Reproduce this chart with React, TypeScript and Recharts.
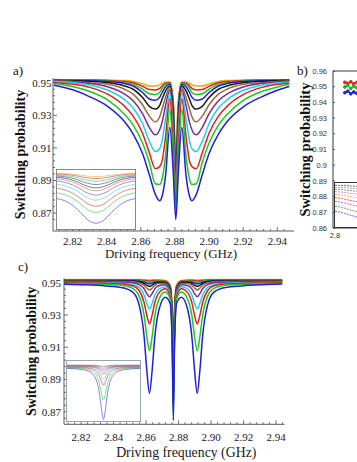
import React from 'react';
import { LineChart, Line, XAxis, YAxis, ReferenceArea } from 'recharts';

const SERIF = '"Liberation Serif", "Times New Roman", serif';
const SANS = '"Liberation Sans", Arial, sans-serif';
const AXIS = '#4a4a4a';

// curve colours, deepest dip first
const COLORS = ['#2020d8', '#1ec81e', '#e01e1e', '#1ed2e6', '#7d2d91', '#9a6b3c', '#1a1a1a', '#2020d8', '#1ec81e', '#e01e1e', '#e8a81e'];
const INSET_C_COLORS = ['#2020d8', '#1ec81e', '#e01e1e', '#1ed2e6', '#b0307a', '#7d2d91', '#9a6b3c', '#555555'];
const INSET_B_COLORS = ['#444444', '#999999', '#9a5ab0', '#e07aa0', '#e8a040', '#e03030', '#c040c0', '#30a030', '#4040d0'];

// shared ticks
const X_MAJOR = [2.82, 2.84, 2.86, 2.88, 2.9, 2.92, 2.94];
const X_MINOR = [2.812, 2.816, 2.824, 2.828, 2.832, 2.836, 2.844, 2.848, 2.852, 2.856, 2.864, 2.868, 2.872, 2.876,
  2.884, 2.888, 2.892, 2.896, 2.904, 2.908, 2.912, 2.916, 2.924, 2.928, 2.932, 2.936, 2.944];
const Y_MAJOR = [0.87, 0.89, 0.91, 0.93, 0.95];
const Y_MINOR = [0.866, 0.874, 0.878, 0.882, 0.886, 0.894, 0.898, 0.902, 0.906, 0.914, 0.918, 0.922, 0.926,
  0.934, 0.938, 0.942, 0.946];

// panel a
const FREQ_A = [2.809, 2.8205, 2.8305, 2.8405, 2.8505, 2.8555, 2.861, 2.865, 2.8685, 2.871, 2.8725, 2.8745, 2.877, 2.879, 2.8805,
  2.882, 2.884, 2.8865, 2.8885, 2.89, 2.8925, 2.896, 2.9, 2.9055, 2.9105, 2.9205, 2.9305, 2.9405, 2.947];
const A_BLUE = [0.9485, 0.9455, 0.9412, 0.9355, 0.926, 0.9185, 0.9065, 0.8935, 0.8815, 0.8776, 0.8805, 0.893, 0.9226, 0.895, 0.866,
  0.895, 0.9226, 0.893, 0.8805, 0.8776, 0.8815, 0.8935, 0.9065, 0.9185, 0.926, 0.9355, 0.9412, 0.9455, 0.9477];
const A_GREEN = [0.9495, 0.9475, 0.9445, 0.9395, 0.9305, 0.924, 0.913, 0.901, 0.888, 0.8875, 0.891, 0.905, 0.9335, 0.903, 0.872,
  0.903, 0.9335, 0.905, 0.891, 0.8875, 0.888, 0.901, 0.913, 0.924, 0.9305, 0.9395, 0.9445, 0.9475, 0.949];
const A_RED = [0.95, 0.949, 0.947, 0.943, 0.9355, 0.9295, 0.919, 0.907, 0.8972, 0.8985, 0.902, 0.917, 0.94, 0.91, 0.876,
  0.91, 0.94, 0.917, 0.902, 0.8985, 0.8972, 0.907, 0.919, 0.9295, 0.9355, 0.943, 0.947, 0.949, 0.9497];
const A_CYAN = [0.9507, 0.95, 0.9485, 0.9455, 0.9395, 0.9345, 0.925, 0.914, 0.9078, 0.9095, 0.9145, 0.928, 0.9435, 0.915, 0.879,
  0.915, 0.9435, 0.928, 0.9145, 0.9095, 0.9078, 0.914, 0.925, 0.9345, 0.9395, 0.9455, 0.9485, 0.95, 0.9505];
const A_PURPLE = [0.951, 0.9505, 0.9495, 0.9475, 0.943, 0.939, 0.931, 0.9225, 0.918, 0.921, 0.926, 0.936, 0.9455, 0.92, 0.882,
  0.92, 0.9455, 0.936, 0.926, 0.921, 0.918, 0.9225, 0.931, 0.939, 0.943, 0.9475, 0.9495, 0.9505, 0.9508];
const A_BROWN = [0.9512, 0.9508, 0.95, 0.949, 0.946, 0.943, 0.9365, 0.9295, 0.926, 0.929, 0.934, 0.941, 0.947, 0.924, 0.886,
  0.924, 0.947, 0.941, 0.934, 0.929, 0.926, 0.9295, 0.9365, 0.943, 0.946, 0.949, 0.95, 0.9508, 0.951];
const A_BLACK = [0.9514, 0.9512, 0.9508, 0.95, 0.948, 0.946, 0.941, 0.9355, 0.9338, 0.936, 0.94, 0.945, 0.948, 0.928, 0.89,
  0.928, 0.948, 0.945, 0.94, 0.936, 0.9338, 0.9355, 0.941, 0.946, 0.948, 0.95, 0.9508, 0.9512, 0.9513];
const A_BLUE2 = [0.9515, 0.9514, 0.9512, 0.9507, 0.9495, 0.948, 0.944, 0.94, 0.9392, 0.941, 0.944, 0.9475, 0.949, 0.931, 0.894,
  0.931, 0.949, 0.9475, 0.944, 0.941, 0.9392, 0.94, 0.944, 0.948, 0.9495, 0.9507, 0.9512, 0.9514, 0.9515];
const A_GREEN2 = [0.9516, 0.9515, 0.9514, 0.951, 0.95, 0.949, 0.946, 0.9432, 0.9427, 0.944, 0.9465, 0.949, 0.9495, 0.934, 0.898,
  0.934, 0.9495, 0.949, 0.9465, 0.944, 0.9427, 0.9432, 0.946, 0.949, 0.95, 0.951, 0.9514, 0.9515, 0.9516];
const A_RED2 = [0.9517, 0.9517, 0.9516, 0.9513, 0.9507, 0.95, 0.9478, 0.9458, 0.9456, 0.9465, 0.948, 0.9497, 0.95, 0.937, 0.902,
  0.937, 0.95, 0.9497, 0.948, 0.9465, 0.9456, 0.9458, 0.9478, 0.95, 0.9507, 0.9513, 0.9516, 0.9517, 0.9517];
const A_ORANGE = [0.9518, 0.9518, 0.9518, 0.9516, 0.9513, 0.9508, 0.9493, 0.948, 0.948, 0.9487, 0.9495, 0.9505, 0.9505, 0.94, 0.906,
  0.94, 0.9505, 0.9505, 0.9495, 0.9487, 0.948, 0.948, 0.9493, 0.9508, 0.9513, 0.9516, 0.9518, 0.9518, 0.9518];

// inset of panel a
const FREQ_IA = [2.86, 2.865, 2.869, 2.872, 2.8744, 2.8764, 2.8782, 2.88, 2.8818, 2.8836, 2.8856, 2.888, 2.891, 2.895, 2.9];
const IA = [
  [0.9401, 0.9389, 0.9368, 0.9346, 0.9327, 0.9313, 0.9306, 0.9303, 0.9306, 0.9313, 0.9327, 0.9346, 0.9368, 0.9389, 0.9401],
  [0.9424, 0.9414, 0.9398, 0.938, 0.9365, 0.9354, 0.9348, 0.9346, 0.9348, 0.9354, 0.9365, 0.938, 0.9398, 0.9414, 0.9424],
  [0.9442, 0.9433, 0.9418, 0.9402, 0.9388, 0.9378, 0.9373, 0.9371, 0.9373, 0.9378, 0.9388, 0.9402, 0.9418, 0.9433, 0.9442],
  [0.9458, 0.945, 0.9437, 0.9423, 0.941, 0.9402, 0.9397, 0.9395, 0.9397, 0.9402, 0.941, 0.9423, 0.9437, 0.945, 0.9458],
  [0.9471, 0.9464, 0.9452, 0.944, 0.9428, 0.9421, 0.9417, 0.9415, 0.9417, 0.9421, 0.9428, 0.944, 0.9452, 0.9464, 0.9471],
  [0.948, 0.9474, 0.9464, 0.9453, 0.9444, 0.9437, 0.9433, 0.9432, 0.9433, 0.9437, 0.9444, 0.9453, 0.9464, 0.9474, 0.948],
  [0.9486, 0.9481, 0.9472, 0.9462, 0.9454, 0.9448, 0.9445, 0.9444, 0.9445, 0.9448, 0.9454, 0.9462, 0.9472, 0.9481, 0.9486],
  [0.9491, 0.9487, 0.948, 0.9472, 0.9465, 0.9461, 0.9458, 0.9457, 0.9458, 0.9461, 0.9465, 0.9472, 0.948, 0.9487, 0.9491],
  [0.9495, 0.9492, 0.9487, 0.9481, 0.9476, 0.9473, 0.9471, 0.947, 0.9471, 0.9473, 0.9476, 0.9481, 0.9487, 0.9492, 0.9495],
  [0.9499, 0.9497, 0.9493, 0.9489, 0.9485, 0.9483, 0.9481, 0.9481, 0.9481, 0.9483, 0.9485, 0.9489, 0.9493, 0.9497, 0.9499],
  [0.9502, 0.95, 0.9498, 0.9495, 0.9492, 0.949, 0.9489, 0.9489, 0.9489, 0.949, 0.9492, 0.9495, 0.9498, 0.95, 0.9502],
];

// panel c
const FREQ_C = [2.8088, 2.8218, 2.8348, 2.8448, 2.8518, 2.8558, 2.8588, 2.8604, 2.8621, 2.8638, 2.8653, 2.8678, 2.8718, 2.8748, 2.8761, 2.8768,
  2.8775, 2.8788, 2.8818, 2.8858, 2.8883, 2.8898, 2.8915, 2.8932, 2.8948, 2.8978, 2.9018, 2.9088, 2.9188, 2.9318, 2.9438];
const C_BLUE = [0.9491, 0.9487, 0.948, 0.947, 0.9441, 0.9359, 0.9167, 0.8965, 0.8814, 0.8963, 0.9153, 0.9326, 0.941, 0.9373, 0.9108, 0.8646,
  0.9108, 0.9373, 0.941, 0.9326, 0.9153, 0.8963, 0.8814, 0.8965, 0.9167, 0.9359, 0.9441, 0.947, 0.948, 0.9487, 0.9491];
const C_GREEN = [0.9496, 0.9494, 0.949, 0.9484, 0.9465, 0.9415, 0.9296, 0.9172, 0.9078, 0.917, 0.9288, 0.9393, 0.9442, 0.94, 0.914, 0.869,
  0.914, 0.94, 0.9442, 0.9393, 0.9288, 0.917, 0.9078, 0.9172, 0.9296, 0.9415, 0.9465, 0.9484, 0.949, 0.9494, 0.9496];
const C_RED = [0.95, 0.9498, 0.9496, 0.9492, 0.9481, 0.945, 0.9377, 0.9301, 0.9244, 0.93, 0.9372, 0.9435, 0.9463, 0.9418, 0.9168, 0.8735,
  0.9168, 0.9418, 0.9463, 0.9435, 0.9372, 0.93, 0.9244, 0.9301, 0.9377, 0.945, 0.9481, 0.9492, 0.9496, 0.9498, 0.95];
const C_CYAN = [0.9501, 0.9501, 0.9499, 0.9497, 0.9489, 0.947, 0.9423, 0.9374, 0.9337, 0.9373, 0.942, 0.9459, 0.9475, 0.943, 0.9192, 0.878,
  0.9192, 0.943, 0.9475, 0.9459, 0.942, 0.9373, 0.9337, 0.9374, 0.9423, 0.947, 0.9489, 0.9497, 0.9499, 0.9501, 0.9501];
const C_PURPLE = [0.9506, 0.9506, 0.9505, 0.9503, 0.9499, 0.9488, 0.9462, 0.9434, 0.9413, 0.9434, 0.946, 0.9481, 0.9487, 0.9444, 0.9217, 0.8828,
  0.9217, 0.9444, 0.9487, 0.9481, 0.946, 0.9434, 0.9413, 0.9434, 0.9462, 0.9488, 0.9499, 0.9503, 0.9505, 0.9506, 0.9506];
const C_BROWN = [0.9509, 0.9509, 0.9508, 0.9507, 0.9505, 0.9498, 0.9483, 0.9467, 0.9455, 0.9467, 0.9482, 0.9494, 0.9495, 0.9453, 0.924, 0.8875,
  0.924, 0.9453, 0.9495, 0.9494, 0.9482, 0.9467, 0.9455, 0.9467, 0.9483, 0.9498, 0.9505, 0.9507, 0.9508, 0.9509, 0.9509];
const C_BLACK = [0.9512, 0.9512, 0.9511, 0.951, 0.9509, 0.9505, 0.9495, 0.9485, 0.9477, 0.9485, 0.9494, 0.9501, 0.9499, 0.946, 0.9263, 0.8922,
  0.9263, 0.946, 0.9499, 0.9501, 0.9494, 0.9485, 0.9477, 0.9485, 0.9495, 0.9505, 0.9509, 0.951, 0.9511, 0.9512, 0.9512];
const C_BLUE2 = [0.9514, 0.9514, 0.9514, 0.9513, 0.9512, 0.9509, 0.9503, 0.9497, 0.9492, 0.9497, 0.9503, 0.9506, 0.9504, 0.9467, 0.9284, 0.8969,
  0.9284, 0.9467, 0.9504, 0.9506, 0.9503, 0.9497, 0.9492, 0.9497, 0.9503, 0.9509, 0.9512, 0.9513, 0.9514, 0.9514, 0.9514];
const C_GREEN2 = [0.9516, 0.9516, 0.9516, 0.9516, 0.9515, 0.9513, 0.9509, 0.9505, 0.9502, 0.9505, 0.9509, 0.951, 0.9507, 0.9473, 0.9305, 0.9016,
  0.9305, 0.9473, 0.9507, 0.951, 0.9509, 0.9505, 0.9502, 0.9505, 0.9509, 0.9513, 0.9515, 0.9516, 0.9516, 0.9516, 0.9516];
const C_RED2 = [0.9518, 0.9518, 0.9518, 0.9518, 0.9518, 0.9516, 0.9514, 0.9512, 0.951, 0.9512, 0.9514, 0.9514, 0.951, 0.9479, 0.9326, 0.9063,
  0.9326, 0.9479, 0.951, 0.9514, 0.9514, 0.9512, 0.951, 0.9512, 0.9514, 0.9516, 0.9518, 0.9518, 0.9518, 0.9518, 0.9518];
const C_ORANGE = [0.952, 0.952, 0.952, 0.952, 0.952, 0.952, 0.9518, 0.9517, 0.9516, 0.9517, 0.9518, 0.9518, 0.9514, 0.9486, 0.9348, 0.911,
  0.9348, 0.9486, 0.9514, 0.9518, 0.9518, 0.9517, 0.9516, 0.9517, 0.9518, 0.952, 0.952, 0.952, 0.952, 0.952, 0.952];

// inset of panel c
const FREQ_IC = [2.86, 2.868, 2.872, 2.8744, 2.876, 2.8772, 2.8782, 2.879, 2.88, 2.881, 2.8818, 2.8828, 2.884, 2.8856, 2.888, 2.892, 2.9];
const IC = [
  [0.9433, 0.9416, 0.9386, 0.9334, 0.9253, 0.9131, 0.8953, 0.8765, 0.8625, 0.8765, 0.8953, 0.9131, 0.9253, 0.9334, 0.9386, 0.9416, 0.9433],
  [0.9442, 0.9432, 0.9412, 0.9379, 0.9329, 0.9252, 0.914, 0.9021, 0.8933, 0.9021, 0.914, 0.9252, 0.9329, 0.9379, 0.9412, 0.9432, 0.9442],
  [0.945, 0.9444, 0.9433, 0.9415, 0.9386, 0.9343, 0.9281, 0.9214, 0.9165, 0.9214, 0.9281, 0.9343, 0.9386, 0.9415, 0.9433, 0.9444, 0.945],
  [0.9457, 0.9453, 0.9446, 0.9434, 0.9415, 0.9386, 0.9345, 0.9301, 0.9268, 0.9301, 0.9345, 0.9386, 0.9415, 0.9434, 0.9446, 0.9453, 0.9457],
  [0.9465, 0.9463, 0.9458, 0.945, 0.9438, 0.942, 0.9394, 0.9366, 0.9345, 0.9366, 0.9394, 0.942, 0.9438, 0.945, 0.9458, 0.9463, 0.9465],
  [0.9471, 0.9469, 0.9467, 0.9462, 0.9454, 0.9443, 0.9426, 0.9409, 0.9396, 0.9409, 0.9426, 0.9443, 0.9454, 0.9462, 0.9467, 0.9469, 0.9471],
  [0.9478, 0.9477, 0.9475, 0.9473, 0.9468, 0.9461, 0.9451, 0.9441, 0.9433, 0.9441, 0.9451, 0.9461, 0.9468, 0.9473, 0.9475, 0.9477, 0.9478],
  [0.9484, 0.9484, 0.9483, 0.9482, 0.948, 0.9477, 0.9472, 0.9467, 0.9464, 0.9467, 0.9472, 0.9477, 0.948, 0.9482, 0.9483, 0.9484, 0.9484],
];

// panel b (cut off at the right edge)
const B_Y_TICKS = [0.86, 0.87, 0.88, 0.89, 0.9, 0.91, 0.92, 0.93, 0.94, 0.95, 0.96];
const B_Y_LABELS = ['0.86', '0.87', '0.88', '0.89', '0.9', '0.91', '0.92', '0.93', '0.94', '0.95', '0.96'];
const B_FREQ = [2.808, 2.81, 2.812, 2.814, 2.816, 2.818];
const B_RED = [0.9528, 0.9521, 0.9531, 0.9518, 0.9526, 0.952];
const B_GREEN = [0.9498, 0.9508, 0.9489, 0.9503, 0.9494, 0.9501];
const B_BLUE = [0.9462, 0.9471, 0.9455, 0.9466, 0.9458, 0.9464];
const FREQ_IB = [2.8, 2.805, 2.81, 2.815, 2.82, 2.825, 2.83];
const IB = [
  [0.8885, 0.8883, 0.8884, 0.888, 0.8878, 0.8876, 0.8874],
  [0.8872, 0.8869, 0.887, 0.8865, 0.8862, 0.886, 0.8857],
  [0.8858, 0.8855, 0.8853, 0.8849, 0.8845, 0.8842, 0.8838],
  [0.8842, 0.8838, 0.8836, 0.883, 0.8826, 0.8821, 0.8817],
  [0.8824, 0.8818, 0.8815, 0.8809, 0.8803, 0.8798, 0.8792],
  [0.88, 0.8795, 0.879, 0.8782, 0.8776, 0.877, 0.8763],
  [0.8776, 0.877, 0.8763, 0.8755, 0.8747, 0.874, 0.8732],
  [0.8742, 0.8736, 0.8727, 0.8718, 0.8709, 0.87, 0.8691],
  [0.8708, 0.8701, 0.8692, 0.8682, 0.8672, 0.8662, 0.8652],
];

function toRows(freq: number[], series: number[][]) {
  return freq.map((f, i) => {
    const row: Record<string, number> = { f };
    series.forEach((s, k) => {
      row['k' + k] = s[i];
    });
    return row;
  });
}

const ROWS_A = toRows(FREQ_A, [A_BLUE, A_GREEN, A_RED, A_CYAN, A_PURPLE, A_BROWN, A_BLACK, A_BLUE2, A_GREEN2, A_RED2, A_ORANGE]);
const ROWS_C = toRows(FREQ_C, [C_BLUE, C_GREEN, C_RED, C_CYAN, C_PURPLE, C_BROWN, C_BLACK, C_BLUE2, C_GREEN2, C_RED2, C_ORANGE]);
const ROWS_IA = toRows(FREQ_IA, IA);
const ROWS_IC = toRows(FREQ_IC, IC);
const ROWS_B = toRows(B_FREQ, [B_RED, B_GREEN, B_BLUE]);
const ROWS_IB = toRows(FREQ_IB, IB);

const yTick = (gap: number) => (props: any) => {
  const { x, y, payload } = props;
  const major = Y_MAJOR.includes(payload.value);
  return (
    <g>
      <line x1={x} x2={x + (major ? 4 : 2)} y1={y} y2={y} stroke={AXIS} strokeWidth={0.8} />
      {major && (
        <text x={x - gap} y={y} dy="0.36em" textAnchor="end" fontSize={11} fontFamily={SERIF} fill="#1a1a1a">
          {payload.value.toFixed(2)}
        </text>
      )}
    </g>
  );
};

const xTick = (labelDy: number) => (props: any) => {
  const { x, y, payload } = props;
  const major = X_MAJOR.includes(payload.value);
  return (
    <g>
      <line x1={x} x2={x} y1={y} y2={y - (major ? 4 : 2)} stroke={AXIS} strokeWidth={0.8} />
      {major && (
        <text x={x} y={y + labelDy} textAnchor="middle" fontSize={11} fontFamily={SERIF} fill="#1a1a1a">
          {payload.value.toFixed(2)}
        </text>
      )}
    </g>
  );
};

interface MainProps {
  left: number;
  top: number;
  height: number;
  margin: { top: number; right: number; bottom: number; left: number };
  yAxisWidth: number;
  xAxisHeight: number;
  rows: Record<string, number>[];
  xDomain: [number, number];
  yDomain: [number, number];
  labelGap: number;
  xLabelDy: number;
  xTitleOffset: number;
  xTitleDx: number;
  xTitleSize: number;
  yTitleOffset: number;
}

function MainPanel(p: MainProps) {
  return (
    <div style={{ position: 'absolute', left: p.left, top: p.top }}>
      <LineChart width={300} height={p.height} data={p.rows} margin={p.margin}>
        <XAxis
          type="number"
          dataKey="f"
          domain={p.xDomain}
          allowDataOverflow
          ticks={[...X_MAJOR, ...X_MINOR]}
          interval={0}
          tickSize={0}
          tickMargin={0}
          tickLine={false}
          axisLine={{ stroke: AXIS, strokeWidth: 0.9 }}
          tick={xTick(p.xLabelDy)}
          height={p.xAxisHeight}
          label={{
            value: 'Driving frequency (GHz)',
            position: 'insideBottom',
            offset: p.xTitleOffset,
            dx: p.xTitleDx,
            style: { fontFamily: SERIF, fontSize: p.xTitleSize, fill: '#1a1a1a' },
          }}
        />
        <YAxis
          type="number"
          domain={p.yDomain}
          allowDataOverflow
          ticks={[...Y_MAJOR, ...Y_MINOR]}
          interval={0}
          tickSize={0}
          tickMargin={0}
          tickLine={false}
          axisLine={{ stroke: AXIS, strokeWidth: 0.9 }}
          tick={yTick(p.labelGap)}
          width={p.yAxisWidth}
          label={{
            value: 'Switching probability',
            angle: -90,
            position: 'insideLeft',
            offset: p.yTitleOffset,
            style: { textAnchor: 'middle', fontFamily: SERIF, fontSize: 14, fontWeight: 700, fill: '#111' },
          }}
        />
        {COLORS.map((_, i) => {
          const k = COLORS.length - 1 - i;
          return (
            <Line key={k} type="monotone" dataKey={'k' + k} stroke={COLORS[k]} strokeWidth={1.5} dot={false} isAnimationActive={false} />
          );
        })}
      </LineChart>
    </div>
  );
}

interface InsetProps {
  left: number;
  top: number;
  width: number;
  height: number;
  rows: Record<string, number>[];
  colors: string[];
  xDomain: [number, number];
  yDomain: [number, number];
  border: string;
  opacity: number;
  dash?: string;
}

function Inset(p: InsetProps) {
  return (
    <div
      style={{
        position: 'absolute',
        left: p.left,
        top: p.top,
        width: p.width,
        height: p.height,
        boxSizing: 'border-box',
        border: `1px solid ${p.border}`,
        background: '#fff',
      }}
    >
      <LineChart width={p.width - 2} height={p.height - 2} data={p.rows} margin={{ top: 0, right: 0, bottom: 0, left: 0 }}>
        <XAxis type="number" dataKey="f" domain={p.xDomain} hide allowDataOverflow />
        <YAxis type="number" domain={p.yDomain} hide allowDataOverflow />
        {p.colors.map((c, i) => {
          const k = p.colors.length - 1 - i;
          return (
            <Line
              key={k}
              type="monotone"
              dataKey={'k' + k}
              stroke={p.colors[k]}
              strokeOpacity={p.opacity}
              strokeWidth={1}
              strokeDasharray={p.dash}
              dot={false}
              isAnimationActive={false}
            />
          );
        })}
      </LineChart>
    </div>
  );
}

const bYTick = (props: any) => {
  const { x, y, payload } = props;
  const idx = B_Y_TICKS.indexOf(payload.value);
  return (
    <g>
      <line x1={x} x2={x + 2} y1={y} y2={y} stroke="#222" strokeWidth={0.7} />
      <text x={x - 6} y={y} dy="0.35em" textAnchor="end" fontSize={7.5} fontFamily={SANS} fill="#333">
        {B_Y_LABELS[idx]}
      </text>
    </g>
  );
};

const bXTick = (props: any) => {
  const { x, y, payload } = props;
  return (
    <text x={x + 2} y={y + 10} textAnchor="middle" fontSize={7.5} fontFamily={SANS} fill="#333">
      {String(payload.value)}
    </text>
  );
};

function PanelB() {
  const bColors = ['#e02020', '#20b020', '#2020d8'];
  return (
    <div style={{ position: 'absolute', left: 290, top: 60 }}>
      <LineChart width={300} height={200} data={ROWS_B} margin={{ top: 11, right: 20, bottom: 12, left: 0 }}>
        <XAxis
          type="number"
          dataKey="f"
          domain={[2.8, 2.96]}
          allowDataOverflow
          ticks={[2.8]}
          interval={0}
          tickSize={0}
          tickMargin={0}
          tickLine={false}
          axisLine={false}
          tick={bXTick}
          height={20}
        />
        <YAxis
          type="number"
          domain={[0.86, 0.96]}
          allowDataOverflow
          ticks={B_Y_TICKS}
          interval={0}
          tickSize={0}
          tickMargin={0}
          tickLine={false}
          axisLine={false}
          tick={bYTick}
          width={43}
          label={{
            value: 'Switching probability',
            angle: -90,
            position: 'insideLeft',
            offset: 15,
            style: { textAnchor: 'middle', fontFamily: SERIF, fontSize: 14.5, fontWeight: 700, fill: '#111' },
          }}
        />
        <ReferenceArea x1={2.8} x2={2.96} y1={0.86} y2={0.96} fill="none" stroke="#222" strokeWidth={0.9} />
        {bColors.map((c, k) => (
          <Line
            key={k}
            type="linear"
            dataKey={'k' + k}
            stroke={c}
            strokeWidth={1}
            dot={{ r: 1.4, fill: c, stroke: c }}
            isAnimationActive={false}
          />
        ))}
      </LineChart>
    </div>
  );
}

export default function App() {
  return (
    <div style={{ position: 'absolute', left: 0, top: 0, width: 357, height: 462, overflow: 'hidden', background: '#fff' }}>
      <MainPanel
        left={0}
        top={60}
        height={205}
        margin={{ top: 18, right: 6, bottom: 4, left: 0 }}
        yAxisWidth={53}
        xAxisHeight={30}
        rows={ROWS_A}
        xDomain={[2.8085, 2.9498]}
        yDomain={[0.859, 0.9529]}
        labelGap={1.5}
        xLabelDy={14}
        xTitleOffset={3}
        xTitleDx={-2.5}
        xTitleSize={13}
        yTitleOffset={20}
      />
      <MainPanel
        left={0}
        top={260}
        height={200}
        margin={{ top: 18.3, right: 15.5, bottom: 2.7, left: 0 }}
        yAxisWidth={64}
        xAxisHeight={33}
        rows={ROWS_C}
        xDomain={[2.8095, 2.9452]}
        yDomain={[0.8622, 0.9527]}
        labelGap={3}
        xLabelDy={17}
        xTitleOffset={0}
        xTitleDx={12}
        xTitleSize={13.8}
        yTitleOffset={31.5}
      />
      <Inset left={55.5} top={168.5} width={80} height={61} rows={ROWS_IA} colors={COLORS} xDomain={[2.86, 2.9]} yDomain={[0.928, 0.9515]} border="#888" opacity={0.55} />
      <Inset left={65.5} top={359.5} width={75} height={62} rows={ROWS_IC} colors={INSET_C_COLORS} xDomain={[2.86, 2.9]} yDomain={[0.86, 0.955]} border="#9aa4aa" opacity={0.55} />
      <PanelB />
      <Inset left={334} top={181.5} width={100} height={46} rows={ROWS_IB} colors={INSET_B_COLORS} xDomain={[2.8, 2.9]} yDomain={[0.86, 0.89]} border="#333" opacity={0.8} dash="2 1" />
      <svg width={357} height={462} style={{ position: 'absolute', left: 0, top: 0, pointerEvents: 'none' }}>
        <text x={13} y={74.5} fontFamily={SERIF} fontSize={13} fill="#111">a)</text>
        <text x={297} y={75} fontFamily={SERIF} fontSize={13} fill="#111">b)</text>
        <text x={18} y={271} fontFamily={SERIF} fontSize={13} fill="#111">c)</text>
      </svg>
    </div>
  );
}
